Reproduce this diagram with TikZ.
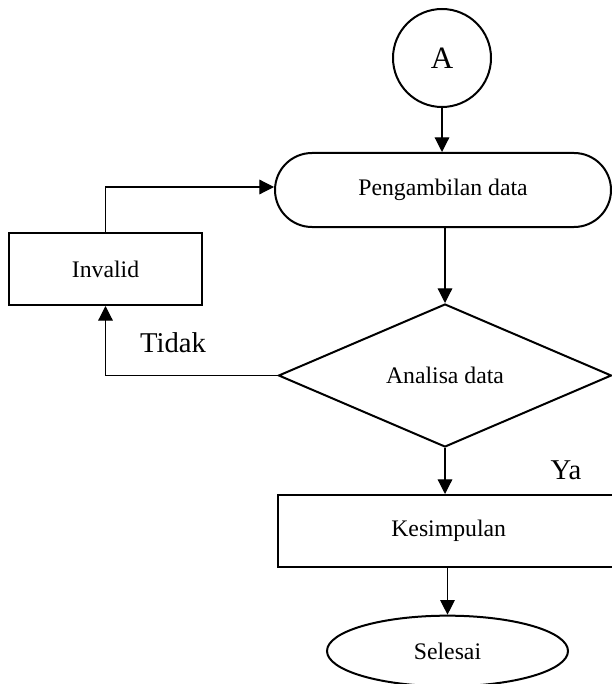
\documentclass[tikz,border=0pt]{standalone}
\usepackage{fontspec}
\setmainfont{Liberation Serif}
\usetikzlibrary{shapes.geometric,arrows.meta}
\tikzset{
  shapebox/.style={draw=black, line width=1.5pt, fill=white, inner sep=0pt, align=center, font=\fontsize{17.8}{21}\selectfont},
  conn/.style={line width=0.9pt, -{Triangle[length=11pt,width=11pt]}},
  lbl/.style={font=\fontsize{21.5}{25}\selectfont, inner sep=0pt}
}
\begin{document}
\begin{tikzpicture}[x=0.75pt,y=-0.75pt]
\useasboundingbox (0,0) rectangle (611,684);
\node[shapebox, circle, minimum size=73.5pt, font=\fontsize{23.3}{27}\selectfont] (a) at (442,58) {A};
\node[shapebox, rectangle, rounded corners=27.75pt, minimum width=252pt, minimum height=55.5pt] (peng) at (443,190) {Pengambilan data};
\node[shapebox, rectangle, minimum width=144.75pt, minimum height=54pt] (inv) at (105.5,269) {Invalid};
\node[shapebox, diamond, minimum width=249.75pt, minimum height=107.25pt] (ana) at (445,375.5) {Analisa data};
\node[shapebox, rectangle, minimum width=262.5pt, minimum height=54pt, text width=253.5pt, align=left] (kes) at (453,531) {\hspace*{80.5pt}Kesimpulan};
\node[shapebox, ellipse, minimum width=180.75pt, minimum height=53pt] (sel) at (447.5,651) {Selesai};
\node[lbl] (tidak) at (173,343) {Tidak};
\node[lbl] (ya) at (566,470) {Ya};
\coordinate (c1) at (105.5,187);
\draw[conn] (a.south) -- (a.south |- peng.north);
\draw[conn] (peng.south -| ana.north) -- (ana.north);
\draw[conn] (ana.south) -- (ana.south |- kes.north);
\draw[conn] (kes.south -| sel.north) -- (sel.north);
\draw[conn] (ana.west) -- (inv.south |- ana.west) -- (inv.south);
\draw[conn] (inv.north) -- (c1) -- (c1 -| peng.west);
\end{tikzpicture}
\end{document}
